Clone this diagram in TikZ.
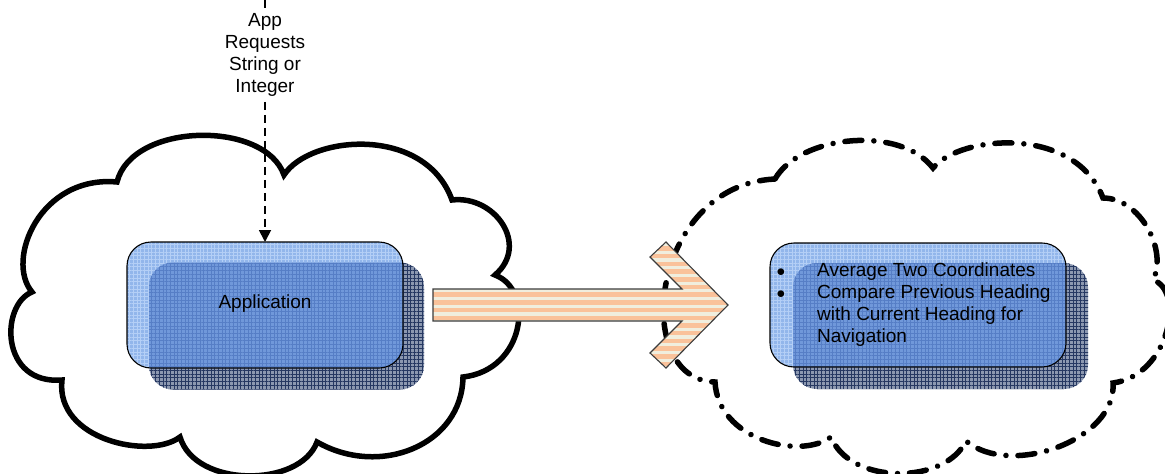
\documentclass[tikz,border=0pt]{standalone}
\usepackage{fontspec}
\setmainfont{Liberation Sans}
\usetikzlibrary{arrows.meta,patterns.meta}

\definecolor{frontblue}{RGB}{146,182,235}
\definecolor{frontgrid}{RGB}{180,207,246}
\definecolor{overlapblue}{RGB}{112,152,218}
\definecolor{overlapgrid}{RGB}{86,126,198}
\definecolor{shadegray}{RGB}{140,152,176}
\definecolor{gridnavy}{RGB}{38,56,98}
\definecolor{stripeorange}{RGB}{250,194,154}
\definecolor{stripecream}{RGB}{240,238,222}
\definecolor{arrowedge}{RGB}{60,60,60}

\begin{document}
\begin{tikzpicture}[x=1pt,y=-1pt,
  cloudline/.style={line width=5.5pt, black, line join=miter},
  dashcloud/.style={line width=5.5pt, black, line cap=round,
    dash pattern=on 17pt off 12pt on 0.01pt off 12pt},
  shadowbox/.style={rounded corners=24pt, inner sep=0pt, outer sep=0pt,
    preaction={fill=shadegray},
    pattern={Hatch[distance=3.7pt, angle=0, line width=0.6pt]},
    pattern color=gridnavy},
  frontbox/.style={rounded corners=24pt, inner sep=0pt, outer sep=0pt,
    preaction={fill=frontblue},
    pattern={Hatch[distance=3.7pt, angle=0, line width=0.6pt]},
    pattern color=frontgrid},
  overlapfill/.style={rounded corners=24pt,
    preaction={fill=overlapblue},
    pattern={Hatch[distance=3.7pt, angle=0, line width=0.6pt]},
    pattern color=overlapgrid},
  frontedge/.style={rounded corners=24pt, draw=black, line width=1.1pt},
  txt/.style={font=\fontsize{19}{22}\selectfont, text=black},
  reqline/.style={line width=1.8pt, dash pattern=on 8pt off 5pt}
]
\useasboundingbox (0,0) rectangle (1165,474);

% solid cloud around the application
\draw[cloudline]
  (117,182) .. controls (132,122) and (265,120) .. (284,175)
            .. controls (310,135) and (425,125) .. (452,200)
            .. controls (495,195) and (530,245) .. (495,275)
            .. controls (535,290) and (525,370) .. (463,377)
            .. controls (462,445) and (380,478) .. (317,442)
            .. controls (300,488) and (195,488) .. (180,437)
            .. controls (150,460) and (55,440) .. (62,380)
            .. controls (0,385) and (0,305) .. (32,292)
            .. controls (5,260) and (40,175) .. (117,182) -- cycle;

% dash-dotted cloud around the processing step
\draw[dashcloud]
  (775,179) .. controls (800,135) and (900,125) .. (933,168)
            .. controls (960,135) and (1075,125) .. (1103,198)
            .. controls (1140,198) and (1168,250) .. (1153,280)
            .. controls (1185,290) and (1170,375) .. (1113,383)
            .. controls (1117,440) and (1010,478) .. (966,441)
            .. controls (945,485) and (850,485) .. (831,437)
            .. controls (800,460) and (718,440) .. (715,382)
            .. controls (630,380) and (650,185) .. (775,179) -- cycle;

% application box: shadow, translucent front, and the part where they overlap
\node[shadowbox, minimum width=275pt, minimum height=127pt] (appshadow) at (286.5,326) {};
\node[frontbox, minimum width=276pt, minimum height=126pt] (app) at (265,305) {};
\begin{scope}
  \clip[rounded corners=24pt] (app.north west) rectangle (app.south east);
  \path[overlapfill] (appshadow.north west) rectangle (appshadow.south east);
\end{scope}
\draw[frontedge] (app.north west) rectangle (app.south east);
\node[txt] (applabel) at (265,304) {Application};

% processing box, built the same way
\node[shadowbox, minimum width=295pt, minimum height=126pt] (navshadow) at (940.5,326) {};
\node[frontbox, minimum width=296pt, minimum height=124pt] (nav) at (918,305) {};
\begin{scope}
  \clip[rounded corners=24pt] (nav.north west) rectangle (nav.south east);
  \path[overlapfill] (navshadow.north west) rectangle (navshadow.south east);
\end{scope}
\draw[frontedge] (nav.north west) rectangle (nav.south east);
\node[txt, anchor=west, inner sep=0pt] (navtext) at (776.3,305)
  {\begin{tabular}{@{}p{40.7pt}@{}l@{}}
   $\bullet$ & Average Two Coordinates\\
   $\bullet$ & Compare Previous Heading\\
             & with Current Heading for\\
             & Navigation
   \end{tabular}};

% striped block arrow between the two clouds
\coordinate (a1) at (433,289);
\coordinate (a2) at (682,289);
\coordinate (a3) at (650,257);
\coordinate (a4) at (666,242);
\coordinate (a5) at (728,305);
\coordinate (a6) at (666,368);
\coordinate (a7) at (650,353);
\coordinate (a8) at (682,321);
\coordinate (a9) at (433,321);
\fill[stripecream] (a1) -- (a2) -- (a3) -- (a4) -- (a5) -- (a6) -- (a7) -- (a8) -- (a9) -- cycle;
\begin{scope}
  \clip (a1) -- (a2) -- (a3) -- (a4) -- (a5) -- (a6) -- (a7) -- (a8) -- (a9) -- cycle;
  \foreach \i in {0,...,17}
    \fill[stripeorange] (425,{238.5+7.7*\i}) rectangle (735,{243+7.7*\i});
\end{scope}
\draw[arrowedge, line width=1.1pt, line join=miter]
  (a1) -- (a2) -- (a3) -- (a4) -- (a5) -- (a6) -- (a7) -- (a8) -- (a9) -- cycle;

% request from above into the application
\coordinate (src) at (265,0);
\node[txt, align=center, inner xsep=2pt, inner ysep=5pt, anchor=north] (req) at (265,8.4)
  {App\\Requests\\String or\\Integer};
\draw[reqline] (src) -- (req.north);
\draw[reqline, -{Triangle[length=12pt, width=12pt]}] (req.south) -- (app.north);
\end{tikzpicture}
\end{document}
